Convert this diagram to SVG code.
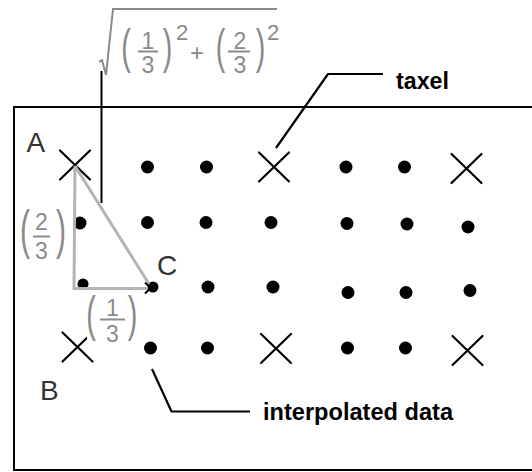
<svg xmlns="http://www.w3.org/2000/svg" width="532" height="472" viewBox="0 0 532 472">
<style>
.frame{fill:none;stroke:#000;stroke-width:2}
.x{stroke:#000;stroke-width:2.2;stroke-linecap:round;fill:none}
.dot{fill:#000}
.lead{stroke:#000;stroke-width:2.2;fill:none;stroke-linejoin:round}
.tri{stroke:#b4b4b4;stroke-width:3;fill:none}
.gr{fill:#8a8a8a;font-family:"Liberation Sans",Arial,sans-serif}
.par{font-size:25px;text-anchor:middle}
.dig{font-size:23px;text-anchor:middle}
.bar{stroke:#8a8a8a;stroke-width:2}
.lbl{fill:#333;font-family:"Liberation Sans",Arial,sans-serif;font-size:28px}
.bold{fill:#000;font-family:"Liberation Sans",Arial,sans-serif;font-weight:bold}
</style>
<defs>
<path id="xm" d="M-15,-14.5 L15,14.5 M15,-14.5 L-15,14.5"/>
</defs>
<rect width="532" height="472" fill="#fff"/>
<g id="frame"><rect class="frame" x="14" y="107" width="530" height="363"/></g>

<g id="formula">
<path d="M99,62 L102,60 L106,75 L113,9 L277,9" fill="none" stroke="#8a8a8a" stroke-width="2"/>
<text class="gr par" transform="translate(126,63) scale(1.15,1.92)">(</text>
<text class="gr dig" x="148" y="48.5">1</text>
<line class="bar" x1="138" y1="51.5" x2="158" y2="51.5"/>
<text class="gr dig" x="148" y="73">3</text>
<text class="gr par" transform="translate(167.5,63) scale(1.15,1.92)">)</text>
<text class="gr" x="182" y="40" font-size="22" text-anchor="middle">2</text>
<text class="gr" x="197" y="61" font-size="24" text-anchor="middle">+</text>
<text class="gr par" transform="translate(220.5,63) scale(1.15,1.92)">(</text>
<text class="gr dig" x="240" y="48.5">2</text>
<line class="bar" x1="228" y1="51.5" x2="250" y2="51.5"/>
<text class="gr dig" x="240" y="73">3</text>
<text class="gr par" transform="translate(260.5,63) scale(1.15,1.92)">)</text>
<text class="gr" x="273" y="40" font-size="22" text-anchor="middle">2</text>
</g>

<g id="connectors">
<line x1="101.5" y1="71" x2="101.5" y2="203" stroke="#000" stroke-width="2"/>
<path class="lead" d="M276,148 L328,74 L383,74"/>
<path class="lead" d="M152,369 L171.5,411.5 L250,411.5"/>
</g>

<g id="taxels">
<use href="#xm" class="x" x="75" y="165"/>
<use href="#xm" class="x" x="274" y="167"/>
<use href="#xm" class="x" x="466.5" y="168.5"/>
<use href="#xm" class="x" x="77.5" y="347"/>
<use href="#xm" class="x" x="276" y="348.5"/>
<use href="#xm" class="x" x="467.5" y="350.5"/>
</g>

<g id="interpolated">
<circle class="dot" cx="147.5" cy="167" r="6.5"/>
<circle class="dot" cx="206.5" cy="167" r="6.5"/>
<circle class="dot" cx="346" cy="167" r="6.5"/>
<circle class="dot" cx="404.5" cy="167" r="6.5"/>
<circle class="dot" cx="80" cy="223" r="6.5"/>
<circle class="dot" cx="147.5" cy="222.5" r="6.5"/>
<circle class="dot" cx="206" cy="222.5" r="6.5"/>
<circle class="dot" cx="271" cy="222.5" r="6.5"/>
<circle class="dot" cx="347" cy="223.5" r="6.5"/>
<circle class="dot" cx="407" cy="224" r="6.5"/>
<circle class="dot" cx="468" cy="227" r="6.5"/>
<circle class="dot" cx="83" cy="284" r="5.5"/>
<circle class="dot" cx="153" cy="287" r="5.5"/>
<circle class="dot" cx="208" cy="287" r="6.5"/>
<circle class="dot" cx="273" cy="287" r="6.5"/>
<circle class="dot" cx="348" cy="292.5" r="6.5"/>
<circle class="dot" cx="406" cy="292.5" r="6.5"/>
<circle class="dot" cx="470" cy="290.5" r="6.5"/>
<circle class="dot" cx="150.5" cy="348" r="6.5"/>
<circle class="dot" cx="207.5" cy="348" r="6.5"/>
<circle class="dot" cx="347.5" cy="348" r="6.5"/>
<circle class="dot" cx="405.5" cy="348" r="6.5"/>
</g>

<g id="triangle">
<path class="tri" d="M75,166 L74,288.5 L148,288.5"/>
<path class="tri" d="M75,166 L149,284"/>
<path d="M145,282.5 L150.5,288 L145,293.5" fill="none" stroke="#000" stroke-width="2"/>
</g>

<g id="label-2-3">
<text class="gr par" transform="translate(25,248) scale(1.2,2.13)">(</text>
<text class="gr dig" x="41.5" y="230">2</text>
<line class="bar" x1="33" y1="236.5" x2="50" y2="236.5"/>
<text class="gr dig" x="41.5" y="259" font-size="25">3</text>
<text class="gr par" transform="translate(61,248) scale(1.2,2.13)">)</text>
</g>

<g id="label-1-3">
<rect x="87" y="293" width="52" height="50" fill="#fff"/>
<text class="gr par" transform="translate(91,331) scale(1.15,2)">(</text>
<text class="gr dig" x="112.5" y="315.5">1</text>
<line class="bar" x1="100" y1="319.5" x2="125" y2="319.5"/>
<text class="gr dig" x="112.5" y="341.5">3</text>
<text class="gr par" transform="translate(132.5,331) scale(1.15,2)">)</text>
</g>

<g id="label-A"><text class="lbl" x="26.5" y="151.5">A</text></g>
<g id="label-B"><text class="lbl" x="40" y="400">B</text></g>
<g id="label-C"><text class="lbl" x="157" y="275">C</text></g>
<g id="label-taxel"><text class="bold" x="396" y="89" font-size="23" textLength="53" lengthAdjust="spacingAndGlyphs">taxel</text></g>
<g id="label-interpolated"><text class="bold" x="263" y="420" font-size="24" textLength="190" lengthAdjust="spacingAndGlyphs">interpolated data</text></g>
</svg>
